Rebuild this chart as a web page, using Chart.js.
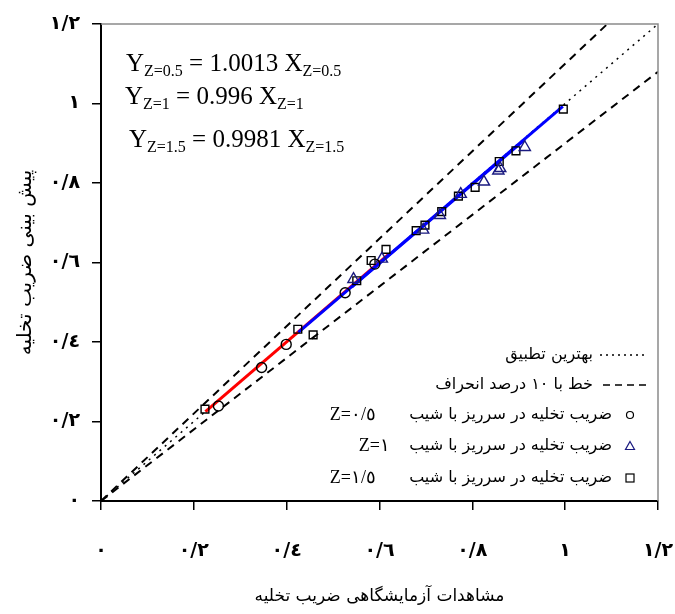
<!DOCTYPE html>
<html>
<head>
<meta charset="utf-8">
<script src="https://cdn.jsdelivr.net/npm/chart.js@4"></script>
<style>
  html, body { margin: 0; padding: 0; background: #fff; }
  #wrap { width: 675px; height: 614px; }
</style>
</head>
<body>
<div id="wrap"><canvas id="chart" width="675" height="614"></canvas></div>
<script>
// tick values and their labels
const tickValues = [0, 0.2, 0.4, 0.6, 0.8, 1, 1.2];
const tickLabels = ["٠", "٠/٢", "٠/٤", "٠/٦", "٠/٨", "١", "١/٢"];

// observed (x) vs predicted (y) discharge coefficient
const z05X = [0.253, 0.346, 0.399, 0.526, 0.590];
const z05Y = [0.239, 0.336, 0.394, 0.524, 0.596];

const z1X = [0.544, 0.605, 0.694, 0.730, 0.775, 0.825, 0.856, 0.860, 0.913];
const z1Y = [0.558, 0.609, 0.682, 0.719, 0.772, 0.803, 0.831, 0.837, 0.890];

const z15X = [0.224, 0.424, 0.457, 0.551, 0.582, 0.614, 0.679, 0.698, 0.734, 0.770, 0.806, 0.858, 0.894, 0.996];
const z15Y = [0.231, 0.432, 0.418, 0.554, 0.605, 0.633, 0.680, 0.694, 0.728, 0.767, 0.789, 0.854, 0.881, 0.986];

// reference lines (end points)
const bestFitX = [0, 1.2];
const bestFitY = [0, 1.2];
const upperX = [0, 1.2];
const upperY = [0, 1.32];
const lowerX = [0, 1.2];
const lowerY = [0, 1.08];

// regression lines (end points)
const fit05X = [0.225, 0.62];
const fit05Y = [0.225, 0.621];
const fit1X = [0.54, 0.913];
const fit1Y = [0.538, 0.909];
const fit15X = [0.425, 0.995];
const fit15Y = [0.424, 0.993];

const legendNames = [
  "بهترین تطبیق",
  "خط با ۱۰ درصد انحراف",
  "ضریب تخلیه در سرریز با شیب",
  "ضریب تخلیه در سرریز با شیب",
  "ضریب تخلیه در سرریز با شیب"
];
const legendZ = ["", "", "Z=٠/٥", "Z=١", "Z=١/٥"];

const xTitle = "مشاهدات آزمایشگاهی ضریب تخلیه";
const yTitle = "پیش بینی ضریب تخلیه";

const faFont = "'DejaVu Sans', sans-serif";
const serif = "'Liberation Serif', 'DejaVu Serif', serif";

function pts(xs, ys) {
  return xs.map((x, i) => ({ x: x, y: ys[i] }));
}

function lineSet(label, xs, ys, color, width, dash, order) {
  return {
    type: "line",
    label: label,
    data: pts(xs, ys),
    borderColor: color,
    borderWidth: width,
    borderDash: dash,
    pointRadius: 0,
    fill: false,
    tension: 0,
    order: order
  };
}

function markerSet(label, xs, ys, style, radius, color) {
  return {
    type: "scatter",
    label: label,
    data: pts(xs, ys),
    pointStyle: style,
    pointRadius: radius,
    pointBorderColor: color,
    pointBackgroundColor: "rgba(0,0,0,0)",
    pointBorderWidth: 1.4,
    borderColor: color,
    backgroundColor: "rgba(0,0,0,0)",
    order: 1
  };
}

// frame, equations and legend
const extras = {
  id: "extras",
  afterDraw(chart) {
    const ctx = chart.ctx;
    const a = chart.chartArea;
    ctx.save();

    // grey top / right frame
    ctx.strokeStyle = "#8a8a8a";
    ctx.lineWidth = 1.5;
    ctx.beginPath();
    ctx.moveTo(a.left, a.top);
    ctx.lineTo(a.right, a.top);
    ctx.lineTo(a.right, a.bottom);
    ctx.stroke();

    // regression equations
    ctx.fillStyle = "#000";
    ctx.textBaseline = "alphabetic";
    ctx.textAlign = "left";
    const eqs = [
      [126, 71, "Z=0.5", "1.0013"],
      [125, 104, "Z=1", "0.996"],
      [129, 147, "Z=1.5", "0.9981"]
    ];
    eqs.forEach(([x, y, sub, k]) => {
      let cx = x;
      const big = "25px " + serif;
      const small = "16px " + serif;
      ctx.font = big;
      ctx.fillText("Y", cx, y);
      cx += ctx.measureText("Y").width;
      ctx.font = small;
      ctx.fillText(sub, cx, y + 5);
      cx += ctx.measureText(sub).width;
      ctx.font = big;
      const mid = " = " + k + " X";
      ctx.fillText(mid, cx, y);
      cx += ctx.measureText(mid).width;
      ctx.font = small;
      ctx.fillText(sub, cx, y + 5);
    });

    // legend
    const rows = [355, 385, 415, 446, 478];
    const symX = 630;
    ctx.textBaseline = "middle";
    rows.forEach((y, i) => {
      ctx.strokeStyle = "#000";
      ctx.lineWidth = 1.5;
      if (i === 0) {
        ctx.setLineDash([2, 4]);
        ctx.beginPath();
        ctx.moveTo(600, y);
        ctx.lineTo(646, y);
        ctx.stroke();
        ctx.setLineDash([]);
      } else if (i === 1) {
        ctx.setLineDash([7, 5]);
        ctx.beginPath();
        ctx.moveTo(603, y);
        ctx.lineTo(646, y);
        ctx.stroke();
        ctx.setLineDash([]);
      } else if (i === 2) {
        ctx.lineWidth = 1.2;
        ctx.beginPath();
        ctx.arc(symX, y, 3.5, 0, Math.PI * 2);
        ctx.stroke();
      } else if (i === 3) {
        ctx.lineWidth = 1.2;
        ctx.strokeStyle = "#1a1a80";
        ctx.beginPath();
        ctx.moveTo(symX, y - 4.5);
        ctx.lineTo(symX + 4.5, y + 3.5);
        ctx.lineTo(symX - 4.5, y + 3.5);
        ctx.closePath();
        ctx.stroke();
      } else {
        ctx.lineWidth = 1.2;
        ctx.strokeRect(symX - 4, y - 4, 8, 8);
      }
      const right = i < 2 ? 593 : 612;
      ctx.direction = "rtl";
      ctx.textAlign = "right";
      ctx.fillStyle = "#000";
      ctx.font = "16px " + faFont;
      ctx.fillText(legendNames[i], right, y);
      if (legendZ[i]) {
        ctx.direction = "ltr";
        ctx.textAlign = "right";
        ctx.font = "18px " + serif;
        const zRight = i === 3 ? 390 : 376;
        ctx.fillText(legendZ[i], zRight, y);
      }
    });
    ctx.restore();
  }
};

const axisFont = { family: faFont, size: 19, weight: "bold" };

new Chart(document.getElementById("chart"), {
  data: {
    datasets: [
      markerSet("Z=0.5", z05X, z05Y, "circle", 5, "#000"),
      markerSet("Z=1", z1X, z1Y, "triangle", 6.5, "#1a1a80"),
      markerSet("Z=1.5", z15X, z15Y, "rect", 5.5, "#000"),
      lineSet("fit Z=1.5", fit15X, fit15Y, "#0000ff", 3, [], 2),
      lineSet("fit Z=1", fit1X, fit1Y, "#0000ff", 3, [], 3),
      lineSet("fit Z=0.5", fit05X, fit05Y, "#ff0000", 3, [], 4),
      lineSet("best fit", bestFitX, bestFitY, "#000", 1.5, [2, 5], 5),
      lineSet("+10%", upperX, upperY, "#000", 2, [8, 6], 6),
      lineSet("-10%", lowerX, lowerY, "#000", 2, [8, 6], 7)
    ]
  },
  options: {
    responsive: false,
    animation: false,
    layout: { padding: { left: 10, right: 17, top: 24, bottom: 3 } },
    plugins: {
      legend: { display: false },
      tooltip: { enabled: false }
    },
    scales: {
      x: {
        type: "linear",
        min: 0,
        max: 1.2,
        afterBuildTicks: (s) => { s.ticks = tickValues.map((v) => ({ value: v })); },
        afterFit: (s) => { s.height = 110; s.paddingLeft = 0; s.paddingRight = 0; },
        ticks: {
          callback: (v, i) => tickLabels[i],
          font: axisFont,
          color: "#000",
          padding: 30,
          maxRotation: 0,
          autoSkip: false
        },
        grid: { drawOnChartArea: false, drawTicks: true, tickLength: 9, color: "#000", lineWidth: 1.5 },
        border: { color: "#000", width: 2 },
        title: { display: true, text: xTitle, font: { family: faFont, size: 17 }, color: "#000" }
      },
      y: {
        type: "linear",
        min: 0,
        max: 1.2,
        afterBuildTicks: (s) => { s.ticks = tickValues.map((v) => ({ value: v })); },
        afterFit: (s) => { s.width = 91; s.paddingTop = 0; s.paddingBottom = 0; },
        ticks: {
          callback: (v, i) => tickLabels[i],
          font: axisFont,
          color: "#000",
          padding: 12,
          autoSkip: false
        },
        grid: { drawOnChartArea: false, drawTicks: true, tickLength: 9, color: "#000", lineWidth: 1.5 },
        border: { color: "#000", width: 2 },
        title: { display: true, text: yTitle, font: { family: faFont, size: 20 }, color: "#000" }
      }
    }
  },
  plugins: [extras]
});
</script>
</body>
</html>
